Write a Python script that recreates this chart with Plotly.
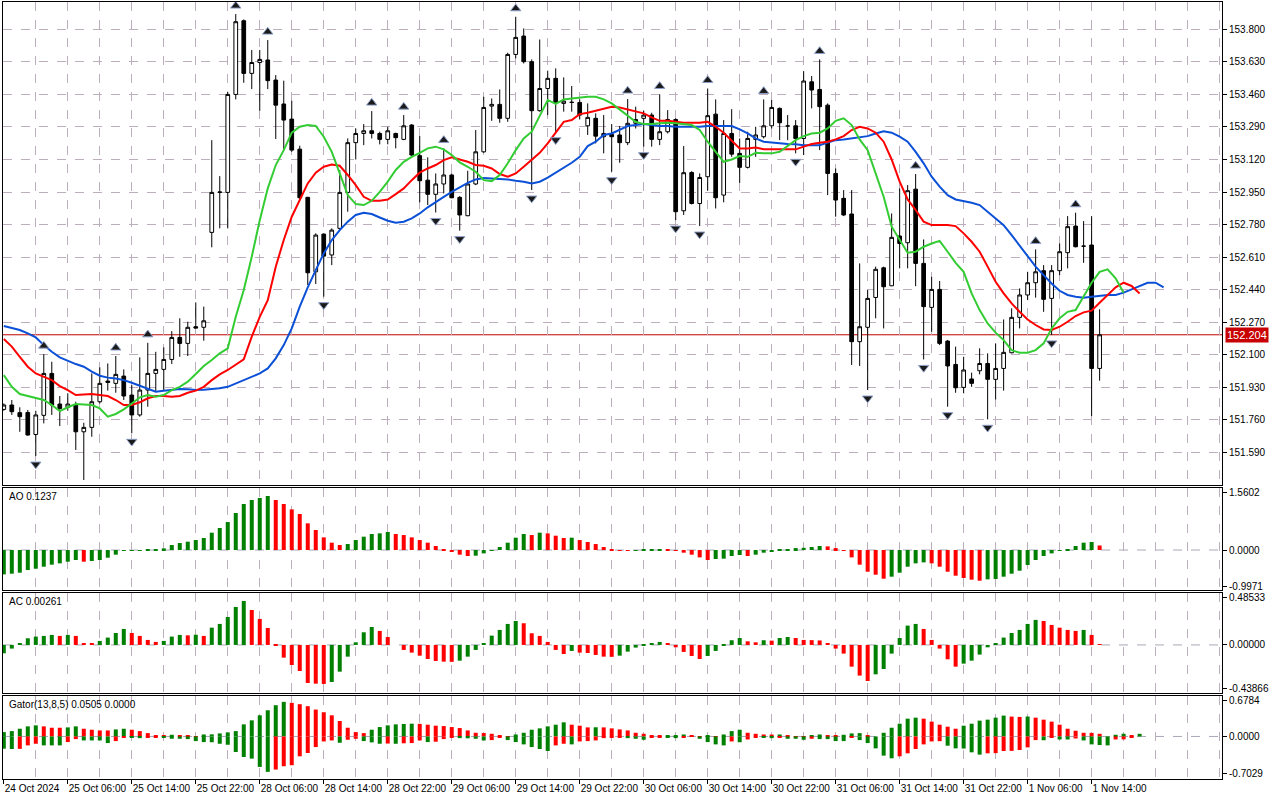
import plotly.graph_objects as go

# USDJPY H1 candles (bar index 0 = 24 Oct 22:00)
open_ = [151.814, 151.837, 151.797, 151.798, 151.683, 151.783, 152.002, 151.842, 151.825, 151.837,
         151.697, 151.720, 151.854, 151.962, 151.950, 151.988, 151.889, 151.785, 151.915, 152.002,
         152.023, 152.075, 152.190, 152.159, 152.246, 152.243, 152.739, 152.948, 152.948, 153.460,
         153.845, 153.570, 153.627, 153.640, 153.535, 153.410, 153.331, 153.174, 152.922, 152.533,
         152.730, 152.621, 152.760, 152.948, 153.208, 153.256, 153.270, 153.256, 153.225, 153.256,
         153.225, 153.300, 153.140, 153.012, 152.938, 152.992, 153.039, 152.922, 152.826, 152.992,
         153.160, 153.399, 153.408, 153.335, 153.669, 153.765, 153.631, 153.375, 153.491, 153.544,
         153.413, 153.418, 153.418, 153.296, 153.335, 153.239, 153.251, 153.248, 153.208, 153.309,
         153.335, 153.352, 153.225, 153.265, 153.329, 152.852, 153.052, 152.890, 153.030, 153.357,
         152.934, 153.256, 153.152, 153.079, 153.225, 153.239, 153.296, 153.387, 153.295, 153.296,
         153.230, 153.526, 153.486, 153.404, 153.047, 152.917, 152.835, 152.168, 152.243, 152.399,
         152.554, 152.460, 152.720, 152.685, 152.965, 152.577, 152.347, 152.441, 152.171, 152.049,
         151.929, 151.973, 152.016, 152.054, 151.971, 152.028, 152.110, 152.295, 152.412, 152.476,
         152.539, 152.394, 152.539, 152.633, 152.772, 152.667, 152.673, 152.028]
high = [151.845, 151.863, 151.825, 151.811, 151.807, 152.103, 152.063, 151.884, 151.898, 151.854,
        151.744, 152.002, 152.034, 152.054, 152.093, 152.023, 151.941, 152.086, 152.162, 152.115,
        152.138, 152.223, 152.290, 152.272, 152.373, 152.351, 153.221, 153.033, 153.474, 153.880,
        153.852, 153.692, 153.692, 153.744, 153.561, 153.532, 153.427, 153.192, 152.925, 152.734,
        152.734, 152.760, 153.065, 153.230, 153.282, 153.305, 153.373, 153.265, 153.291, 153.260,
        153.352, 153.305, 153.242, 153.131, 153.047, 153.178, 153.047, 152.929, 153.061, 153.274,
        153.448, 153.439, 153.486, 153.678, 153.866, 153.805, 153.643, 153.747, 153.584, 153.596,
        153.549, 153.504, 153.434, 153.413, 153.361, 153.352, 153.305, 153.295, 153.436, 153.396,
        153.375, 153.364, 153.460, 153.378, 153.335, 153.190, 153.059, 153.047, 153.491, 153.434,
        153.326, 153.383, 153.230, 153.265, 153.291, 153.434, 153.431, 153.392, 153.352, 153.326,
        153.582, 153.556, 153.643, 153.413, 153.073, 152.960, 152.960, 152.577, 152.438, 152.560,
        152.560, 152.838, 152.969, 152.986, 153.044, 152.702, 152.507, 152.485, 152.177, 152.142,
        152.089, 152.006, 152.133, 152.107, 152.159, 152.284, 152.342, 152.446, 152.533, 152.650,
        152.568, 152.568, 152.681, 152.824, 152.842, 152.798, 152.824, 152.337]
low = [151.807, 151.785, 151.697, 151.677, 151.570, 151.741, 151.785, 151.727, 151.807, 151.602,
       151.445, 151.671, 151.845, 151.912, 151.901, 151.863, 151.689, 151.776, 151.828, 151.906,
       151.915, 152.051, 152.089, 152.093, 152.237, 152.173, 152.661, 152.760, 152.760, 153.434,
       153.521, 153.488, 153.375, 153.488, 153.227, 153.166, 153.160, 152.908, 152.464, 152.469,
       152.403, 152.568, 152.751, 152.847, 153.120, 153.195, 153.230, 153.199, 153.199, 153.178,
       153.221, 153.138, 152.896, 152.882, 152.843, 152.943, 152.917, 152.748, 152.824, 152.986,
       153.155, 153.322, 153.312, 153.317, 153.648, 153.622, 152.960, 153.370, 153.352, 153.265,
       153.370, 153.370, 153.329, 153.248, 153.204, 153.152, 153.056, 153.103, 153.195, 153.282,
       153.187, 153.187, 153.195, 153.256, 152.803, 152.830, 152.885, 152.772, 152.957, 152.864,
       152.896, 153.134, 152.998, 153.073, 153.134, 153.230, 153.282, 153.221, 153.221, 153.152,
       153.143, 153.387, 153.169, 152.934, 152.821, 152.824, 152.046, 152.041, 151.915, 152.290,
       152.237, 152.458, 152.551, 152.551, 152.458, 152.075, 152.220, 152.150, 151.828, 151.901,
       151.898, 151.932, 151.997, 151.762, 151.866, 151.912, 152.107, 152.237, 152.385, 152.398,
       152.324, 152.203, 152.516, 152.551, 152.661, 152.580, 151.779, 151.964]
close = [151.837, 151.802, 151.776, 151.680, 151.785, 152.002, 151.837, 151.819, 151.842, 151.697,
         151.720, 151.854, 151.950, 151.955, 151.997, 151.884, 151.785, 151.915, 152.002, 152.023,
         152.075, 152.190, 152.159, 152.243, 152.239, 152.277, 152.948, 152.950, 153.460, 153.840,
         153.570, 153.627, 153.643, 153.532, 153.404, 153.326, 153.169, 152.920, 152.528, 152.725,
         152.615, 152.751, 152.948, 153.208, 153.256, 153.270, 153.256, 153.225, 153.270, 153.234,
         153.296, 153.143, 153.009, 152.938, 152.992, 153.039, 152.920, 152.830, 152.992, 153.160,
         153.392, 153.408, 153.335, 153.669, 153.758, 153.631, 153.375, 153.491, 153.544, 153.417,
         153.425, 153.419, 153.352, 153.340, 153.242, 153.256, 153.239, 153.208, 153.309, 153.329,
         153.352, 153.225, 153.265, 153.329, 152.847, 153.051, 152.890, 153.026, 153.349, 152.920,
         153.256, 153.148, 153.079, 153.230, 153.248, 153.296, 153.392, 153.312, 153.295, 153.230,
         153.530, 153.483, 153.396, 153.047, 152.908, 152.830, 152.168, 152.246, 152.394, 152.546,
         152.455, 152.713, 152.681, 152.957, 152.577, 152.351, 152.441, 152.159, 152.041, 151.927,
         152.020, 151.950, 152.054, 151.971, 152.028, 152.112, 152.295, 152.412, 152.476, 152.533,
         152.389, 152.539, 152.638, 152.769, 152.664, 152.667, 152.028, 152.204]

# Alligator lines (already shifted forward)
jaw = [152.250, 152.239, 152.229, 152.211, 152.190, 152.150, 152.115, 152.086, 152.068, 152.051,
       152.037, 152.011, 151.990, 151.980, 151.976, 151.967, 151.953, 151.936, 151.919, 151.906,
       151.912, 151.915, 151.920, 151.919, 151.915, 151.917, 151.919, 151.924, 151.932, 151.950,
       151.967, 151.985, 152.002, 152.028, 152.081, 152.150, 152.237, 152.351, 152.452, 152.542,
       152.629, 152.699, 152.751, 152.795, 152.830, 152.842, 152.835, 152.817, 152.800, 152.789,
       152.795, 152.812, 152.838, 152.870, 152.899, 152.925, 152.951, 152.974, 152.998, 153.016,
       153.023, 153.021, 153.018, 153.016, 153.009, 153.004, 152.995, 153.004, 153.025, 153.051,
       153.077, 153.103, 153.134, 153.190, 153.213, 153.248, 153.256, 153.277, 153.295, 153.300,
       153.305, 153.300, 153.295, 153.295, 153.291, 153.291, 153.291, 153.291, 153.295, 153.295,
       153.295, 153.295, 153.277, 153.256, 153.230, 153.213, 153.209, 153.204, 153.201, 153.199,
       153.195, 153.195, 153.195, 153.208, 153.221, 153.225, 153.230, 153.234, 153.242, 153.256,
       153.268, 153.260, 153.239, 153.213, 153.160, 153.100, 153.030, 152.978, 152.934, 152.911,
       152.903, 152.894, 152.882, 152.847, 152.812, 152.777, 152.725, 152.668, 152.612, 152.560,
       152.516, 152.472, 152.434, 152.412, 152.403, 152.398, 152.403, 152.408, 152.412, 152.412,
       152.424, 152.441, 152.459, 152.476, 152.476, 152.452]
teeth = [152.182, 152.142, 152.089, 152.037, 152.002, 151.985, 151.967, 151.936, 151.915, 151.889,
         151.892, 151.894, 151.889, 151.884, 151.863, 151.837, 151.837, 151.851, 151.872, 151.884,
         151.884, 151.880, 151.884, 151.901, 151.912, 151.932, 151.967, 151.997, 152.020, 152.046,
         152.075, 152.194, 152.298, 152.385, 152.560, 152.699, 152.821, 152.908, 152.995, 153.051,
         153.082, 153.094, 153.087, 153.039, 152.986, 152.925, 152.904, 152.904, 152.911, 152.939,
         152.969, 153.012, 153.051, 153.073, 153.091, 153.117, 153.131, 153.120, 153.108, 153.091,
         153.087, 153.073, 153.044, 153.030, 153.047, 153.082, 153.117, 153.155, 153.204, 153.260,
         153.317, 153.326, 153.357, 153.364, 153.375, 153.387, 153.396, 153.392, 153.382, 153.370,
         153.361, 153.340, 153.322, 153.322, 153.317, 153.312, 153.312, 153.312, 153.317, 153.291,
         153.260, 153.221, 153.178, 153.178, 153.183, 153.174, 153.173, 153.173, 153.174, 153.173,
         153.187, 153.201, 153.208, 153.213, 153.225, 153.242, 153.274, 153.291, 153.282, 153.260,
         153.213, 153.120, 153.004, 152.911, 152.856, 152.795, 152.777, 152.777, 152.777, 152.772,
         152.734, 152.690, 152.638, 152.560, 152.481, 152.420, 152.368, 152.324, 152.284, 152.255,
         152.232, 152.229, 152.246, 152.272, 152.302, 152.321, 152.330, 152.371, 152.412, 152.452,
         152.476, 152.459, 152.420]
lips = [151.993, 151.932, 151.894, 151.884, 151.877, 151.863, 151.837, 151.805, 151.825, 151.842,
        151.840, 151.837, 151.819, 151.776, 151.790, 151.814, 151.845, 151.877, 151.889, 151.880,
        151.889, 151.915, 151.932, 151.959, 151.999, 152.041, 152.072, 152.107, 152.133, 152.298,
        152.438, 152.612, 152.803, 152.969, 153.091, 153.169, 153.260, 153.291, 153.300, 153.295,
        153.239, 153.160, 153.047, 152.934, 152.887, 152.882, 152.904, 152.951, 153.004, 153.065,
        153.108, 153.134, 153.155, 153.178, 153.187, 153.173, 153.143, 153.105, 153.082, 153.056,
        153.012, 153.007, 153.039, 153.100, 153.169, 153.230, 153.265, 153.352, 153.431, 153.410,
        153.434, 153.439, 153.443, 153.448, 153.448, 153.434, 153.413, 153.382, 153.347, 153.317,
        153.305, 153.305, 153.309, 153.312, 153.309, 153.305, 153.300, 153.274, 153.213, 153.160,
        153.108, 153.120, 153.138, 153.134, 153.155, 153.152, 153.152, 153.160, 153.190, 153.221,
        153.242, 153.256, 153.260, 153.282, 153.322, 153.335, 153.300, 153.225, 153.169, 153.047,
        152.925, 152.769, 152.699, 152.633, 152.638, 152.664, 152.681, 152.695, 152.638, 152.580,
        152.533, 152.420, 152.333, 152.263, 152.215, 152.176, 152.124, 152.110, 152.110, 152.124,
        152.159, 152.237, 152.290, 152.324, 152.333, 152.403, 152.476, 152.533, 152.546, 152.499,
        152.424]

# fractal bars
fractal_up = [5, 14, 18, 29, 33, 46, 50, 55, 64, 78, 82, 88, 95, 102, 114, 129, 134]
fractal_down = [4, 10, 16, 40, 54, 57, 66, 69, 76, 80, 84, 87, 99, 108, 115, 118, 123, 131]

ao = [-0.663, -0.644, -0.617, -0.545, -0.508, -0.454, -0.399, -0.363, -0.318, -0.272,
      -0.318, -0.300, -0.272, -0.209, -0.127, -0.018, -0.009, -0.005, 0.018, 0.025,
      0.045, 0.136, 0.191, 0.227, 0.272, 0.327, 0.472, 0.599, 0.762, 1.008,
      1.253, 1.362, 1.416, 1.470, 1.362, 1.253, 1.107, 0.980, 0.726, 0.545,
      0.345, 0.200, 0.136, 0.163, 0.272, 0.363, 0.436, 0.454, 0.490, 0.436,
      0.408, 0.345, 0.272, 0.200, 0.109, 0.027, -0.045, -0.127, -0.163, -0.154,
      -0.091, -0.009, 0.082, 0.200, 0.336, 0.436, 0.408, 0.472, 0.454, 0.390,
      0.327, 0.336, 0.272, 0.218, 0.163, 0.082, 0.027, -0.009, -0.012, -0.005,
      0.009, 0.015, 0.027, 0.022, -0.018, -0.073, -0.127, -0.200, -0.272, -0.245,
      -0.236, -0.163, -0.136, -0.163, -0.127, -0.073, -0.045, 0.005, 0.027, 0.054,
      0.060, 0.082, 0.109, 0.100, 0.054, -0.005, -0.200, -0.399, -0.590, -0.672,
      -0.781, -0.726, -0.617, -0.454, -0.363, -0.336, -0.363, -0.454, -0.590, -0.699,
      -0.762, -0.807, -0.835, -0.798, -0.789, -0.726, -0.644, -0.563, -0.408, -0.272,
      -0.163, -0.091, -0.018, 0.027, 0.109, 0.200, 0.218, 0.1237]
ac = [-0.085, -0.037, 0.017, 0.068, 0.085, 0.092, 0.102, 0.092, 0.102, 0.092,
      0.020, 0.010, 0.041, 0.075, 0.122, 0.163, 0.122, 0.092, 0.051, 0.031,
      0.041, 0.085, 0.102, 0.098, 0.104, 0.092, 0.176, 0.214, 0.285, 0.387,
      0.448, 0.356, 0.265, 0.173, -0.003, -0.129, -0.204, -0.265, -0.387, -0.394,
      -0.397, -0.377, -0.272, -0.119, 0.027, 0.129, 0.183, 0.143, 0.081, 0.000,
      -0.051, -0.078, -0.109, -0.143, -0.163, -0.170, -0.172, -0.160, -0.119, -0.051,
      0.010, 0.095, 0.153, 0.214, 0.244, 0.221, 0.119, 0.092, 0.031, -0.051,
      -0.092, -0.061, -0.078, -0.082, -0.102, -0.119, -0.121, -0.109, -0.068, -0.027,
      -0.007, 0.017, 0.031, 0.017, -0.024, -0.071, -0.112, -0.143, -0.112, -0.061,
      -0.007, 0.048, 0.071, 0.037, 0.027, 0.048, 0.044, 0.071, 0.081, 0.071,
      0.051, 0.049, 0.046, 0.020, -0.037, -0.088, -0.221, -0.312, -0.367, -0.299,
      -0.245, -0.088, 0.071, 0.197, 0.214, 0.163, 0.051, -0.037, -0.146, -0.221,
      -0.190, -0.160, -0.098, -0.024, 0.020, 0.075, 0.122, 0.153, 0.214, 0.255,
      0.244, 0.204, 0.176, 0.153, 0.143, 0.153, 0.102, 0.00261]
gator_up = [0.083, 0.102, 0.147, 0.192, 0.211, 0.192, 0.166, 0.166, 0.173, 0.192,
            0.147, 0.128, 0.115, 0.115, 0.134, 0.147, 0.128, 0.102, 0.064, 0.019,
            0.013, 0.032, 0.028, 0.013, 0.003, 0.038, 0.040, 0.058, 0.077, 0.102,
            0.230, 0.307, 0.403, 0.499, 0.595, 0.659, 0.640, 0.614, 0.576, 0.512,
            0.461, 0.403, 0.294, 0.166, 0.083, 0.064, 0.128, 0.179, 0.211, 0.230,
            0.238, 0.243, 0.240, 0.224, 0.205, 0.198, 0.179, 0.160, 0.115, 0.070,
            0.065, 0.051, 0.019, 0.003, 0.038, 0.070, 0.128, 0.154, 0.192, 0.224,
            0.269, 0.224, 0.205, 0.173, 0.175, 0.173, 0.154, 0.134, 0.115, 0.070,
            0.051, 0.013, 0.011, 0.015, 0.021, 0.038, 0.019, 0.003, 0.013, 0.003,
            0.038, 0.102, 0.128, 0.070, 0.051, 0.038, 0.036, 0.038, 0.013, 0.006,
            0.003, 0.019, 0.038, 0.026, 0.013, 0.032, 0.058, 0.064, 0.026, 0.000,
            0.070, 0.166, 0.243, 0.339, 0.358, 0.339, 0.282, 0.224, 0.186, 0.147,
            0.205, 0.243, 0.301, 0.320, 0.358, 0.397, 0.378, 0.372, 0.380, 0.358,
            0.320, 0.282, 0.224, 0.147, 0.109, 0.070, 0.068, 0.051, 0.000, 0.032,
            0.051, 0.010, 0.0505]
gator_down = [-0.233, -0.239, -0.236, -0.170, -0.139, -0.170, -0.170, -0.170, -0.107, -0.050,
              -0.076, -0.076, -0.076, -0.126, -0.088, -0.013, -0.025, -0.032, -0.025, -0.013,
              -0.025, -0.044, -0.044, -0.050, -0.088, -0.107, -0.110, -0.139, -0.158, -0.296,
              -0.391, -0.422, -0.580, -0.674, -0.630, -0.567, -0.548, -0.378, -0.315, -0.202,
              -0.095, -0.076, -0.120, -0.063, -0.044, -0.088, -0.113, -0.139, -0.135, -0.139,
              -0.130, -0.126, -0.076, -0.107, -0.100, -0.050, -0.025, -0.032, -0.035, -0.044,
              -0.076, -0.069, -0.013, -0.069, -0.107, -0.151, -0.202, -0.239, -0.277, -0.170,
              -0.139, -0.151, -0.095, -0.088, -0.076, -0.032, -0.025, -0.013, -0.032, -0.044,
              -0.063, -0.019, -0.013, -0.019, -0.032, -0.013, -0.010, -0.044, -0.107, -0.151,
              -0.170, -0.095, -0.110, -0.057, -0.013, -0.019, -0.032, -0.013, -0.044, -0.044,
              -0.063, -0.044, -0.050, -0.050, -0.088, -0.088, -0.019, -0.069, -0.126, -0.227,
              -0.365, -0.416, -0.378, -0.321, -0.239, -0.151, -0.095, -0.090, -0.176, -0.227,
              -0.230, -0.302, -0.346, -0.321, -0.318, -0.277, -0.275, -0.258, -0.208, -0.069,
              -0.072, -0.019, -0.057, -0.058, -0.038, -0.076, -0.151, -0.164, -0.170, -0.057,
              -0.055, -0.019, 0.000]

time_labels = ["24 Oct 2024", "25 Oct 06:00", "25 Oct 14:00", "25 Oct 22:00", "28 Oct 06:00",
               "28 Oct 14:00", "28 Oct 22:00", "29 Oct 06:00", "29 Oct 14:00", "29 Oct 22:00",
               "30 Oct 06:00", "30 Oct 14:00", "30 Oct 22:00", "31 Oct 06:00", "31 Oct 14:00",
               "31 Oct 22:00", "1 Nov 06:00", "1 Nov 14:00"]
price_ticks = [151.590, 151.760, 151.930, 152.100, 152.270, 152.440, 152.610,
               152.780, 152.950, 153.120, 153.290, 153.460, 153.630, 153.800]
last_price = 152.204
ao_ticks = [1.5602, 0.0, -0.9971]
ac_ticks = [0.48533, 0.0, -0.43866]
gator_ticks = [0.6784, 0.0, -0.7029]

GREEN = "#008000"
RED = "#ff0000"
GRID = "#bcaebc"
FONT = "Liberation Sans"


def bar_colors(vals, use_abs=False):
    cols = []
    c = GREEN
    for i, v in enumerate(vals):
        if i > 0:
            a, b = (abs(v), abs(vals[i - 1])) if use_abs else (v, vals[i - 1])
            if a > b:
                c = GREEN
            elif a < b:
                c = RED
        cols.append(c)
    return cols


bars = list(range(len(close)))
price_min, price_max = 151.419, 153.943
fr_off = (price_max - price_min) * 0.017

fig = go.Figure()

fig.add_trace(go.Candlestick(
    x=bars, open=open_, high=high, low=low, close=close,
    increasing=dict(line=dict(color="black", width=1), fillcolor="white"),
    decreasing=dict(line=dict(color="black", width=1), fillcolor="black"),
    whiskerwidth=0, hoverinfo="skip", xaxis="x", yaxis="y",
))

for vals, col in [(jaw, "#0b50d6"), (teeth, "#ff0000"), (lips, "#33cc33")]:
    fig.add_trace(go.Scatter(x=list(range(len(vals))), y=vals, mode="lines",
                             line=dict(color=col, width=2), xaxis="x", yaxis="y"))

# fractal marks
fig.add_trace(go.Scatter(
    x=fractal_up, y=[high[k] + fr_off for k in fractal_up], mode="markers",
    marker=dict(symbol="triangle-up", size=9, color="#1a1a1a", line=dict(width=1, color="#8fa0c8")),
    xaxis="x", yaxis="y"))
fig.add_trace(go.Scatter(
    x=fractal_down, y=[low[k] - fr_off for k in fractal_down], mode="markers",
    marker=dict(symbol="triangle-down", size=9, color="#1a1a1a", line=dict(width=1, color="#8fa0c8")),
    xaxis="x", yaxis="y"))

fig.add_trace(go.Bar(x=bars, y=ao, marker=dict(color=bar_colors(ao), line=dict(width=0)),
                     width=0.5, xaxis="x2", yaxis="y2"))
fig.add_trace(go.Bar(x=bars, y=ac, marker=dict(color=bar_colors(ac), line=dict(width=0)),
                     width=0.5, xaxis="x3", yaxis="y3"))
fig.add_trace(go.Bar(x=list(range(len(gator_up))), y=gator_up,
                     marker=dict(color=bar_colors(gator_up, True), line=dict(width=0)),
                     width=0.5, xaxis="x4", yaxis="y4"))
fig.add_trace(go.Bar(x=list(range(len(gator_down))), y=gator_down,
                     marker=dict(color=bar_colors(gator_down, True), line=dict(width=0)),
                     width=0.5, xaxis="x4", yaxis="y4"))

label_pos = [8 * i for i in range(len(time_labels))]
grid_pos = list(range(0, 156, 4))

xbase = dict(range=[-0.1, 152.3], tickmode="array", tickvals=label_pos, ticktext=time_labels,
             showgrid=True, gridcolor=GRID, griddash="dash", gridwidth=1,
             minor=dict(tickmode="array", tickvals=grid_pos, showgrid=True, gridcolor=GRID,
                        griddash="dash", gridwidth=1, ticks=""),
             showline=True, linecolor="black", linewidth=1, mirror=True, zeroline=False,
             ticks="", showticklabels=False, fixedrange=True, automargin=False, tickangle=0)
ybase = dict(side="right", showline=True, linecolor="black", linewidth=1, mirror=True,
             zeroline=False, ticks="outside", ticklen=4, tickcolor="black",
             tickfont=dict(family=FONT, size=10, color="black"), fixedrange=True,
             automargin=False)

fig.update_layout(
    width=1280, height=800,
    margin=dict(l=3, r=58, t=2, b=21),
    plot_bgcolor="white", paper_bgcolor="white",
    showlegend=False, barmode="overlay", boxgap=0.34,
    font=dict(family=FONT, size=10, color="black"),
    xaxis=dict(xbase, anchor="y", rangeslider=dict(visible=False)),
    xaxis2=dict(xbase, anchor="y2"),
    xaxis3=dict(xbase, anchor="y3"),
    xaxis4=dict(xbase, anchor="y4", showticklabels=True, ticks="outside", ticklen=4,
                tickcolor="black", ticklabelposition="outside right",
                tickfont=dict(family=FONT, size=10, color="black")),
    yaxis=dict(ybase, domain=[0.3784, 1.0], range=[price_min, price_max], anchor="x",
               tickmode="array", tickvals=price_ticks, ticktext=[f"{v:.3f}" for v in price_ticks],
               showgrid=True, gridcolor=GRID, griddash="dash"),
    yaxis2=dict(ybase, domain=[0.2432, 0.3745], range=[-1.089, 1.688], anchor="x2",
                tickmode="array", tickvals=ao_ticks, ticktext=[f"{v:.4f}" for v in ao_ticks],
                showgrid=False),
    yaxis3=dict(ybase, domain=[0.1107, 0.2394], range=[-0.489, 0.529], anchor="x3",
                tickmode="array", tickvals=ac_ticks, ticktext=[f"{v:.5f}" for v in ac_ticks],
                showgrid=False),
    yaxis4=dict(ybase, domain=[0.0, 0.1068], range=[-0.81, 0.77], anchor="x4",
                tickmode="array", tickvals=gator_ticks, ticktext=[f"{v:.4f}" for v in gator_ticks],
                showgrid=False),
)

# zero lines of the indicator windows and the current price line
shapes = []
for ax in ["2", "3", "4"]:
    shapes.append(dict(type="line", xref=f"x{ax} domain", x0=0, x1=1, yref=f"y{ax}", y0=0, y1=0,
                       line=dict(color="#a8a8b8", width=1, dash="dash"), layer="below"))
shapes.append(dict(type="line", xref="x domain", x0=0, x1=1, yref="y", y0=last_price, y1=last_price,
                   line=dict(color="#c00000", width=1), layer="below"))
fig.update_layout(shapes=shapes)

annotations = [
    dict(text=f"{last_price:.3f}", x=1, xref="paper", xanchor="left", xshift=3,
         y=last_price, yref="y", yanchor="middle", showarrow=False,
         bgcolor="#c80000", font=dict(family=FONT, size=11, color="white"), borderpad=1),
    dict(text=f"AO {ao[-1]:.4f}", x=0, xref="paper", xanchor="left", xshift=4,
         y=0.3745, yref="paper", yanchor="top", yshift=-1, showarrow=False),
    dict(text=f"AC {ac[-1]:.5f}", x=0, xref="paper", xanchor="left", xshift=4,
         y=0.2394, yref="paper", yanchor="top", yshift=-1, showarrow=False),
    dict(text=f"Gator(13,8,5) {gator_up[-1]:.4f} {abs(gator_down[-1]):.4f}", x=0, xref="paper",
         xanchor="left", xshift=4, y=0.1068, yref="paper", yanchor="top", yshift=-1,
         showarrow=False),
]
fig.update_layout(annotations=annotations)

fig.write_html("out.html", config={"displayModeBar": False},
               post_script="document.body.style.margin='0';")
